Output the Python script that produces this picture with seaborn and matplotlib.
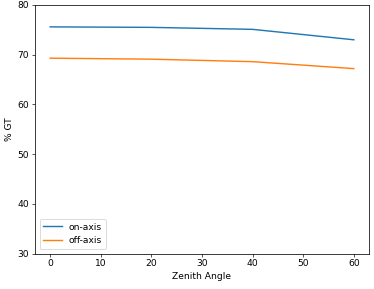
import pandas as pd
import matplotlib
matplotlib.use("Agg")
import matplotlib.pyplot as plt
import seaborn as sns

# datos
angles = [0, 20, 40, 60]
on_axis = [75.6, 75.5, 75.1, 73.0]
off_axis = [69.3, 69.1, 68.6, 67.2]
series = ["on-axis", "off-axis"]

df = pd.DataFrame({
    "angle": angles * 2,
    "gt": on_axis + off_axis,
    "tipo": [series[0]] * len(angles) + [series[1]] * len(angles),
})

plt.rcParams["font.size"] = 11
plt.rcParams["axes.linewidth"] = 0.9

fig = plt.figure(figsize=(374 / 60, 289 / 60), dpi=60)
ax = fig.add_axes([35 / 374, (289 - 253.5) / 289, (369 - 35) / 374, (253.5 - 5) / 289])

sns.lineplot(data=df, x="angle", y="gt", hue="tipo", hue_order=series,
             palette=["#1f77b4", "#ff7f0e"], linewidth=1.7, ax=ax)

ax.set_ylim(30, 80)
ax.set_xlabel("Zenith Angle")
ax.set_ylabel("% GT")
handles, labels = ax.get_legend_handles_labels()
ax.legend(handles, labels, loc="lower left")

fig.savefig("out.png", dpi=60)
